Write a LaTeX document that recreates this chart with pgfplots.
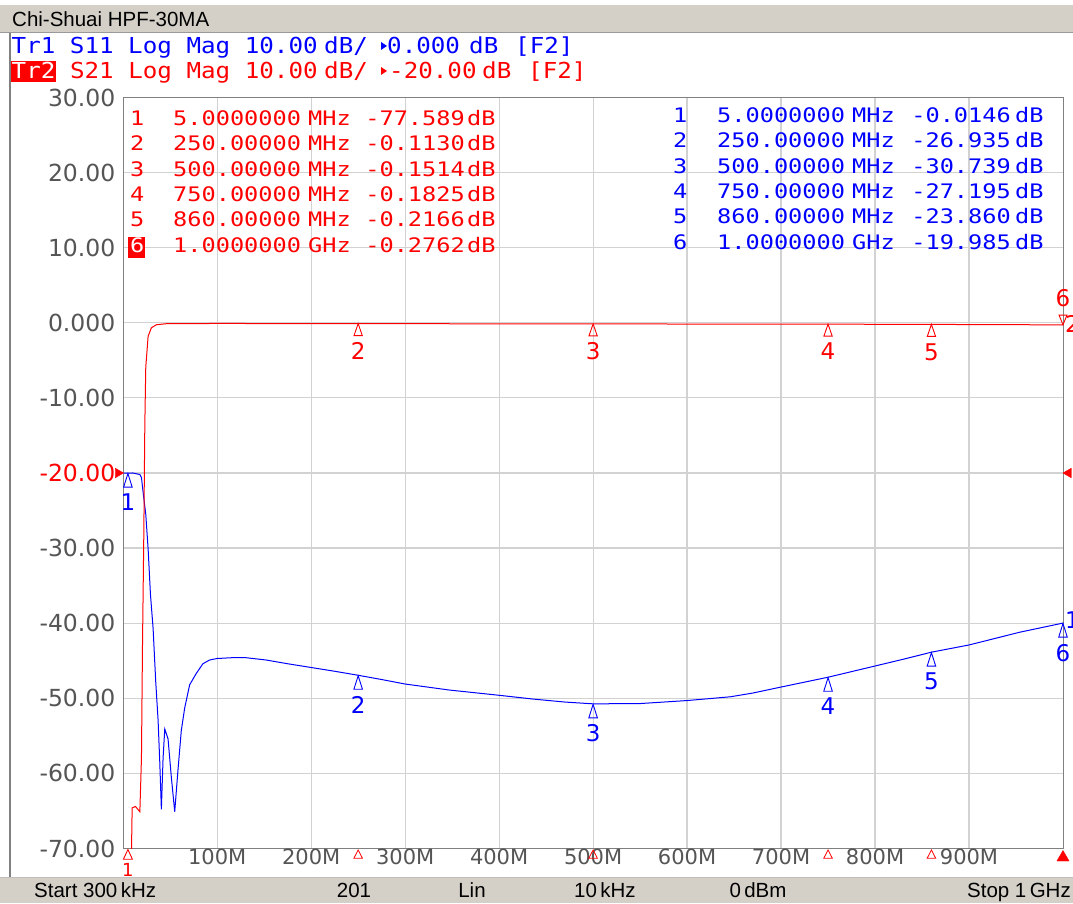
\documentclass[border=0pt]{standalone}
\usepackage{fontspec}
\setmainfont{DejaVu Sans}
\newfontfamily\uifont{Liberation Sans}
\newfontfamily\hdrfont[FakeStretch=1.1]{DejaVu Sans Mono}
\newfontfamily\mkfont[FakeStretch=1.18]{DejaVu Sans Mono}
\usepackage{pgfplots}
\usepackage{pgfplotstable}
\pgfplotsset{compat=1.18}
\definecolor{vnablue}{RGB}{0,0,255}
\definecolor{vnared}{RGB}{255,0,0}
\definecolor{barcol}{RGB}{212,208,200}
\definecolor{tickgray}{RGB}{85,85,85}
\definecolor{gridgray}{RGB}{210,210,210}
\definecolor{framegray}{RGB}{128,128,128}
\newcommand\hdr{\hdrfont\fontsize{22}{26}\selectfont}
\newcommand\mk{\mkfont\fontsize{20}{24}\selectfont}
\newcommand\ui{\uifont\fontsize{20.5}{24}\selectfont}
\newcommand\lbl{\fontsize{23}{26}\selectfont}

\pgfplotstableread{
f db
0.3 -90
5 -77.589
8.8 -70.5
9.5 -64.6
13 -64.4
17.7 -65.1
19.4 -58.0
20.5 -43.1
21.9 -28.3
23.0 -13.5
24.0 -5.9
26.5 -1.8
30.0 -0.66
35.3 -0.26
46 -0.12
100 -0.09
250 -0.113
500 -0.1514
750 -0.1825
860 -0.2166
1000 -0.2762
}\reddata

\pgfplotstableread{
f db
0.3 -20.0
5 -20.01
10 -20.0
17.7 -20.2
19.4 -20.6
21.2 -22.6
24.0 -25.5
26.5 -30.1
29.0 -36.2
31.8 -40.7
34.6 -47.8
37.1 -52.9
38.9 -58.5
40.6 -64.8
42.4 -58.0
44.2 -54.1
47.7 -55.4
51.2 -60.5
54.8 -65.1
58.3 -59.5
61.8 -54.3
65.4 -51.3
70.7 -48.2
77.7 -46.7
84.8 -45.4
91.9 -44.9
100 -44.7
115 -44.6
131 -44.6
152 -44.9
175 -45.4
200 -45.9
225 -46.4
250 -46.935
275 -47.5
300 -48.1
347 -48.9
400 -49.6
436 -50.1
470 -50.5
500 -50.739
550 -50.7
600 -50.3
646 -49.8
670 -49.3
700 -48.5
750 -47.195
800 -45.7
830 -44.8
860 -43.86
900 -42.9
954 -41.2
1000 -39.985
}\bluedata

\begin{document}
\begin{tikzpicture}
\begin{scope}[x=1pt,y=1pt]
\fill[white] (0,0) rectangle (1073,903);
% title bar
\fill[barcol] (0,870) rectangle (1073,898);
\draw[black!40, line width=1.5pt] (0,870.5) -- (1073,870.5);
\node[anchor=base west, inner sep=0pt, font=\ui] at (12,876.6) {Chi-Shuai HPF-30MA};
% status bar
\fill[barcol] (0,0) rectangle (1073,26);
\draw[black!25, line width=1pt] (0,26) -- (1073,26);
\node[anchor=base west, inner sep=0pt, font=\ui] at (34,5.5) {Start 300\,kHz};
\node[anchor=base, inner sep=0pt, font=\ui] at (354,5.5) {201};
\node[anchor=base, inner sep=0pt, font=\ui] at (472,5.5) {Lin};
\node[anchor=base, inner sep=0pt, font=\ui] at (605,5.5) {10\,kHz};
\node[anchor=base, inner sep=0pt, font=\ui] at (758,5.5) {0\,dBm};
\node[anchor=base east, inner sep=0pt, font=\ui] at (1071,5.5) {Stop 1\,GHz};
% window border
\draw[black!50, line width=2pt] (9.5,26) -- (9.5,870);
% header Tr1
\node[anchor=base west, inner sep=0pt, text=vnablue, font=\hdr] at (11.5,849.5) {Tr1 S11 Log Mag 10.00};
\node[anchor=base west, inner sep=0pt, text=vnablue, font=\hdr] at (324,849.5) {dB/};
\fill[vnablue] (381,861) -- (387,857) -- (381,853) -- cycle;
\node[anchor=base west, inner sep=0pt, text=vnablue, font=\hdr] at (387,849.5) {0.000};
\node[anchor=base west, inner sep=0pt, text=vnablue, font=\hdr] at (469,849.5) {dB};
\node[anchor=base west, inner sep=0pt, text=vnablue, font=\hdr] at (515,849.5) {[F2]};
% header Tr2
\fill[vnared] (10.5,821) rectangle (56,842);
\node[anchor=base west, inner sep=0pt, text=white, font=\hdr] at (11.5,824.5) {Tr2};
\node[anchor=base west, inner sep=0pt, text=vnared, font=\hdr] at (69.8,824.5) {S21 Log Mag 10.00};
\node[anchor=base west, inner sep=0pt, text=vnared, font=\hdr] at (324,824.5) {dB/};
\fill[vnared] (381,836) -- (387,832) -- (381,828) -- cycle;
\node[anchor=base west, inner sep=0pt, text=vnared, font=\hdr] at (389,824.5) {-20.00};
\node[anchor=base west, inner sep=0pt, text=vnared, font=\hdr] at (482,824.5) {dB};
\node[anchor=base west, inner sep=0pt, text=vnared, font=\hdr] at (528,824.5) {[F2]};
\end{scope}

\begin{axis}[
  at={(123.5pt,54.5pt)}, anchor=south west,
  scale only axis, width=939.5pt, height=751pt,
  xmin=0.3, xmax=1000, ymin=-70, ymax=30,
  xtick={100,200,...,900},
  xticklabels={100M,200M,300M,400M,500M,600M,700M,800M,900M},
  ytick={-70,-60,...,30},
  yticklabels={-70.00,-60.00,-50.00,-40.00,-30.00,\textcolor{vnared}{-20.00},-10.00,0.000,10.00,20.00,30.00},
  major tick length=0pt,
  grid=major,
  major grid style={draw=gridgray, line width=1.2pt},
  axis line style={draw=framegray, line width=1pt},
  xticklabel style={font=\fontsize{21}{24}\selectfont, text=tickgray, inner sep=0pt, anchor=north},
  yticklabel style={font=\fontsize{23.5}{26}\selectfont, text=tickgray, inner sep=0pt, anchor=east, xshift=-8pt},
]
\addplot[vnablue, line width=1pt, no marks] table[x=f, y=db] \bluedata;
\addplot[vnared, line width=1pt, no marks] table[x=f, y=db] \reddata;
\end{axis}

\begin{axis}[
  at={(123.5pt,54.5pt)}, anchor=south west,
  scale only axis, width=939.5pt, height=751pt,
  xmin=0.3, xmax=1000, ymin=-70, ymax=30,
  hide axis, clip=false,
]
% red markers 2-5
\addplot[only marks, mark=triangle, mark size=8pt,
  mark options={yshift=-8pt, xscale=0.6, draw=vnared, line width=0.9pt},
  nodes near coords, point meta=explicit symbolic,
  every node near coord/.append style={anchor=north, yshift=-10.5pt, inner sep=0pt, font=\lbl, text=vnared}]
  table[x=f, y=db, meta=m] {
f db m
250 -0.113 2
500 -0.1514 3
750 -0.1825 4
860 -0.2166 5
};
% red marker 6 (active)
\addplot[only marks, mark=triangle, mark size=6.5pt,
  mark options={yshift=6.5pt, rotate=180, xscale=0.7, draw=vnared, line width=0.9pt},
  nodes near coords, point meta=explicit symbolic,
  every node near coord/.append style={anchor=south, yshift=11.5pt, inner sep=0pt, font=\lbl, text=vnared}]
  table[x=f, y=db, meta=m] {
f db m
1000 -0.2762 6
};
% blue markers
\addplot[only marks, mark=triangle, mark size=9pt,
  mark options={yshift=-9.5pt, xscale=0.55, draw=vnablue, line width=0.9pt},
  nodes near coords, point meta=explicit symbolic,
  every node near coord/.append style={anchor=north, yshift=-11pt, inner sep=0pt, font=\lbl, text=vnablue}]
  table[x=f, y=db, meta=m] {
f db m
5 -20.0146 1
250 -46.935 2
500 -50.739 3
750 -47.195 4
860 -43.86 5
1000 -39.985 6
};
% red marker 1 (off scale, shown at bottom)
\addplot[only marks, mark=triangle, mark size=6.5pt,
  mark options={yshift=-7.5pt, xscale=0.8, draw=vnared, line width=0.9pt},
  nodes near coords, point meta=explicit symbolic,
  every node near coord/.append style={anchor=north, yshift=-7pt, inner sep=0pt, font=\fontsize{18}{20}\selectfont, text=vnared}]
  table[x=f, y=db, meta=m] {
f db m
5 -70 1
};
% stimulus indicators on bottom
\addplot[only marks, mark=triangle, mark size=5.5pt,
  mark options={yshift=-7pt, xscale=0.9, draw=vnared, line width=0.8pt}]
  table[x=f, y=db] {
f db
250 -70
500 -70
750 -70
860 -70
};
\addplot[only marks, mark=triangle*, mark size=7pt,
  mark options={yshift=-9pt, draw=vnared, fill=vnared}]
  table[x=f, y=db] {
f db
1000 -70
};
% reference position arrows
\addplot[only marks, mark=triangle*, mark size=5.5pt,
  mark options={xshift=-5.5pt, rotate=-90, draw=vnared, fill=vnared}]
  table[x=f, y=db] {
f db
0.3 -20
};
\addplot[only marks, mark=triangle*, mark size=5.5pt,
  mark options={xshift=5.5pt, rotate=90, draw=vnared, fill=vnared}]
  table[x=f, y=db] {
f db
1000 -20
};
% trace numbers at right end
\addplot[only marks, mark=none, nodes near coords, point meta=explicit symbolic,
  every node near coord/.append style={anchor=west, xshift=2pt, yshift=1pt, inner sep=0pt, font=\lbl, text=vnared}]
  table[x=f, y=db, meta=m] {
f db m
1000 -0.2762 2
};
\addplot[only marks, mark=none, nodes near coords, point meta=explicit symbolic,
  every node near coord/.append style={anchor=west, xshift=2pt, yshift=3pt, inner sep=0pt, font=\lbl, text=vnablue}]
  table[x=f, y=db, meta=m] {
f db m
1000 -39.985 1
};
\end{axis}

\begin{scope}[x=1pt,y=1pt]
% marker tables
\foreach \y/\n/\fr/\u/\v in {777.7/1/5.0000000/MHz/-77.589, 752.2/2/250.00000/MHz/-0.1130, 726.7/3/500.00000/MHz/-0.1514, 701.7/4/750.00000/MHz/-0.1825, 676.2/5/860.00000/MHz/-0.2166, 650.2/6/1.0000000/GHz/-0.2762}{
  \node[anchor=base west, inner sep=0pt, text=vnared, font=\mk] at (130,\y) {\n};
  \node[anchor=base west, inner sep=0pt, text=vnared, font=\mk] at (173,\y) {\fr};
  \node[anchor=base west, inner sep=0pt, text=vnared, font=\mk] at (308,\y) {\u};
  \node[anchor=base east, inner sep=0pt, text=vnared, font=\mk] at (465,\y) {\v};
  \node[anchor=base west, inner sep=0pt, text=vnared, font=\mk] at (467,\y) {dB};
}
\fill[vnared] (128,645) rectangle (145,666);
\node[anchor=base west, inner sep=0pt, text=white, font=\mk] at (130,650.2) {6};
\foreach \y/\n/\fr/\u/\v in {780.7/1/5.0000000/MHz/-0.0146, 755.2/2/250.00000/MHz/-26.935, 729.7/3/500.00000/MHz/-30.739, 704.7/4/750.00000/MHz/-27.195, 679.2/5/860.00000/MHz/-23.860, 653.7/6/1.0000000/GHz/-19.985}{
  \node[anchor=base west, inner sep=0pt, text=vnablue, font=\mk] at (673,\y) {\n};
  \node[anchor=base west, inner sep=0pt, text=vnablue, font=\mk] at (717,\y) {\fr};
  \node[anchor=base west, inner sep=0pt, text=vnablue, font=\mk] at (852,\y) {\u};
  \node[anchor=base east, inner sep=0pt, text=vnablue, font=\mk] at (1011,\y) {\v};
  \node[anchor=base west, inner sep=0pt, text=vnablue, font=\mk] at (1015,\y) {dB};
}
\end{scope}
\pgfresetboundingbox
\path[use as bounding box] (0pt,0pt) rectangle (1073pt,903pt);
\end{tikzpicture}
\end{document}
